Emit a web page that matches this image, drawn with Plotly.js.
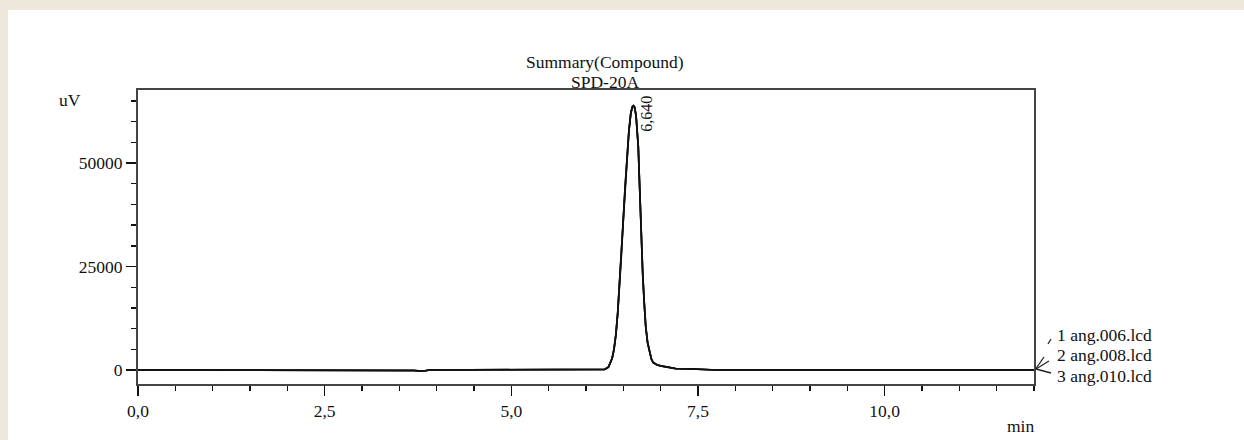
<!DOCTYPE html>
<html>
<head>
<meta charset="utf-8">
<script src="https://cdn.plot.ly/plotly-3.0.1.min.js"></script>
<style>
  html, body { margin:0; padding:0; background:#EEE8DC; width:1244px; height:440px; overflow:hidden; }
  #chart { position:absolute; left:8px; top:10px; width:1236px; height:430px; background:#fff; }
</style>
</head>
<body>
<div id="chart"></div>
<script>
// ---- data ----
const time = [0.0, 3.65, 3.70, 3.75, 3.80, 3.85, 3.90, 6.20, 6.25, 6.30, 6.35, 6.375, 6.40, 6.425, 6.45, 6.475, 6.50, 6.525, 6.55, 6.575, 6.60, 6.62, 6.635, 6.65, 6.67, 6.685, 6.70, 6.715, 6.73, 6.745, 6.76, 6.78, 6.80, 6.825, 6.85, 6.875, 6.90, 6.95, 7.00, 7.10, 7.20, 7.40, 7.60, 7.70, 7.75, 12.0];
const sig1 = [0, 0, -120, -200, -220, -180, 0, 0, 150, 700, 2800, 5000, 8500, 13800, 20500, 28300, 36500, 44500, 52000, 57800, 62000, 63500, 63800, 63500, 61500, 58500, 54000, 46000, 37000, 29500, 23000, 16200, 10500, 6600, 4200, 2700, 1800, 1250, 1000, 600, 350, 250, 200, 50, 0, 0];
const sig2 = [0, 0, -110, -190, -210, -170, 0, 0, 140, 690, 2780, 4980, 8450, 13750, 20400, 28200, 36400, 44400, 51900, 57700, 61900, 63400, 63700, 63400, 61400, 58400, 53900, 45900, 36900, 29400, 22900, 16150, 10450, 6580, 4180, 2690, 1790, 1240, 990, 590, 340, 240, 190, 50, 0, 0];
const sig3 = [0, 0, -130, -210, -230, -190, 0, 0, 160, 710, 2820, 5020, 8550, 13850, 20600, 28400, 36600, 44600, 52100, 57900, 62100, 63600, 63900, 63600, 61600, 58600, 54100, 46100, 37100, 29600, 23100, 16250, 10550, 6620, 4220, 2710, 1810, 1260, 1010, 610, 360, 260, 210, 50, 0, 0];
const seriesNames = ["1 ang.006.lcd", "2 ang.008.lcd", "3 ang.010.lcd"];
const peakTime = 6.64;
const peakLabel = "6,640";
const titleLines = ["Summary(Compound)", "SPD-20A"];
const yTicks = [0, 25000, 50000];
const xTicks = [0, 2.5, 5, 7.5, 10];

// ---- geometry helpers (page pixels -> paper coords) ----
const W = 1236, H = 430, L = 130, T = 80, PW = 896, PH = 294;
function px(x) { return (x - 8 - L) / PW; }
function py(y) { return (T + PH - (y - 10)) / PH; }

const FONT = "Liberation Serif, Times New Roman, serif";
const FS = 17.5;

const traces = [sig1, sig2, sig3].map((s, i) => ({
  x: time, y: s, type: "scatter", mode: "lines", name: seriesNames[i],
  line: {color: "#111", width: 1.7, shape: "linear"},
  hoverinfo: "skip", showlegend: false
}));

const annotations = [
  {xref:"paper", yref:"paper", x: px(605), y: py(62), text: titleLines[0], showarrow:false, xanchor:"center", yanchor:"middle", font:{family:FONT, size:FS, color:"#111"}},
  {xref:"paper", yref:"paper", x: px(605), y: py(82), text: titleLines[1], showarrow:false, xanchor:"center", yanchor:"middle", font:{family:FONT, size:FS, color:"#111"}},
  {xref:"paper", yref:"paper", x: px(70), y: py(100), text: "uV", showarrow:false, xanchor:"center", yanchor:"middle", font:{family:FONT, size:FS, color:"#111"}},
  {xref:"paper", yref:"paper", x: px(1020), y: py(426), text: "min", showarrow:false, xanchor:"center", yanchor:"middle", font:{family:FONT, size:FS, color:"#111"}},
  {xref:"x", yref:"y", x: peakTime, y: Math.max(...sig1), text: peakLabel, showarrow:false, textangle:-90, xshift:13, yshift:-8, xanchor:"center", yanchor:"middle", font:{family:FONT, size:16, color:"#111"}},
];
const labelY = [335, 355, 375.5];
seriesNames.forEach((n, i) => annotations.push({
  xref:"paper", yref:"paper", x: px(1055), y: py(labelY[i]), text: n, showarrow:false,
  xanchor:"left", yanchor:"middle", font:{family:FONT, size:FS, color:"#111"}
}));

function seg(x0, y0, x1, y1) {
  return {type:"line", xref:"paper", yref:"paper", x0:px(x0), y0:py(y0), x1:px(x1), y1:py(y1), line:{color:"#222", width:1.3}};
}
const shapes = [
  seg(1048, 344, 1051, 339),
  seg(1036, 368.5, 1044, 357),
  seg(1036, 369, 1049, 361),
  seg(1036, 369, 1051, 373)
];

const layout = {
  width: W, height: H,
  margin: {l: L, r: W - L - PW, t: T, b: H - T - PH, pad: 0},
  paper_bgcolor: "#ffffff", plot_bgcolor: "#ffffff",
  separators: ", ",
  showlegend: false,
  font: {family: FONT, size: FS, color: "#111"},
  xaxis: {
    range: [0, 12], tickvals: xTicks, tickformat: ".1f",
    ticks: "outside", ticklen: 10, tickwidth: 1.4, tickcolor: "#111",
    minor: {dtick: 0.5, tick0: 0, ticks: "outside", ticklen: 5, tickwidth: 1.4, tickcolor: "#111", showgrid: false},
    showline: true, linecolor: "#444", linewidth: 2, mirror: true,
    showgrid: false, zeroline: false, fixedrange: true,
    tickfont: {family: FONT, size: FS, color: "#111"}
  },
  yaxis: {
    range: [-3380, 67630], tickvals: yTicks, tickformat: "d",
    ticks: "outside", ticklen: 10, tickwidth: 1.4, tickcolor: "#111",
    minor: {dtick: 5000, tick0: 0, ticks: "outside", ticklen: 5, tickwidth: 1.4, tickcolor: "#111", showgrid: false},
    showline: true, linecolor: "#444", linewidth: 2, mirror: true,
    showgrid: false, zeroline: false, fixedrange: true,
    tickfont: {family: FONT, size: FS, color: "#111"}
  },
  annotations: annotations,
  shapes: shapes
};

Plotly.newPlot("chart", traces, layout, {displayModeBar: false, staticPlot: true});
</script>
</body>
</html>
